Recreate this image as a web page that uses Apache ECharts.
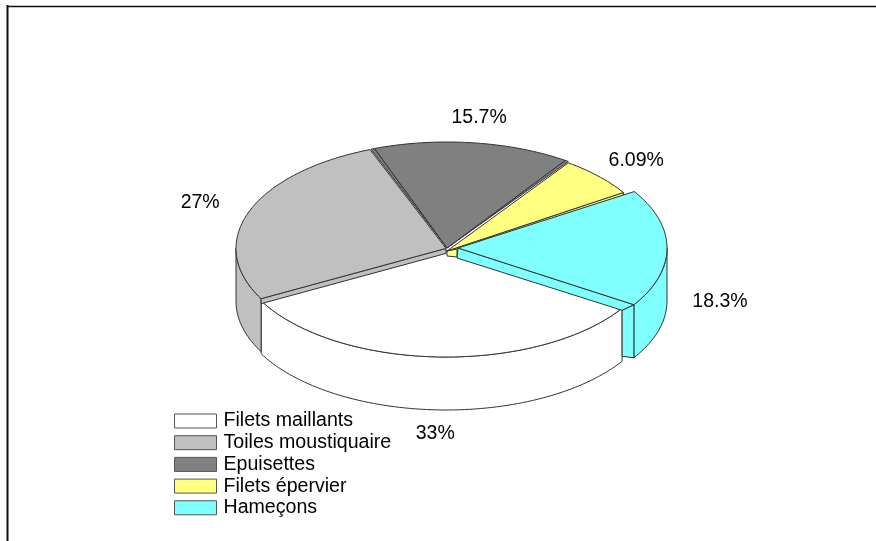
<!DOCTYPE html>
<html>
<head>
<meta charset="utf-8">
<style>html,body{margin:0;padding:0;background:#fff}#chart{width:876px;height:541px}</style>
<script src="https://cdn.jsdelivr.net/npm/echarts@6/dist/echarts.min.js"></script>
</head>
<body>
<div id="chart"></div>
<script>
// Fishing gear shares, in percent
const categories = ['Filets maillants', 'Toiles moustiquaire', 'Epuisettes', 'Filets épervier', 'Hameçons'];
const shares = [33, 27, 15.7, 6.09, 18.3];
const percentLabels = ['33%', '27%', '15.7%', '6.09%', '18.3%'];
const colors = ['#ffffff', '#c0c0c0', '#808080', '#ffff80', '#80ffff'];

// Projection of the tilted disc
const START_ANGLE = 33;   // degrees clockwise from east
const DEPTH = 53;         // wall height
const INK = '#333333';
const FONT = '19.5px "Liberation Sans", Arial, sans-serif';
const centres = [
  { x: 446, y: 250, rx: 210, ry: 107 },
  { x: 446, y: 248.4, rx: 210, ry: 106 },
  { x: 447, y: 248, rx: 210, ry: 106 },
  { x: 447, y: 251, rx: 210, ry: 108 },
  { x: 458, y: 248, rx: 209, ry: 105 }
];

const total = shares.reduce((a, b) => a + b, 0);
const rad = d => d * Math.PI / 180;

function sliceAngles(i) {
  let from = START_ANGLE;
  for (let k = 0; k < i; k++) from += shares[k] / total * 360;
  return [from, from + shares[i] / total * 360];
}
function rim(c, a, depth) {
  return [c.x + c.rx * Math.cos(rad(a)), c.y + c.ry * Math.sin(rad(a)) + (depth || 0)];
}
function arc(c, a0, a1, depth) {
  const n = Math.max(2, Math.ceil(Math.abs(a1 - a0) / 1.5));
  const pts = [];
  for (let k = 0; k <= n; k++) pts.push(rim(c, a0 + (a1 - a0) * k / n, depth));
  return pts;
}
function poly(points, fill, z2) {
  return {
    type: 'polygon',
    shape: { points },
    style: { fill, stroke: INK, lineWidth: 1, lineJoin: 'round' },
    z2: z2 || 0
  };
}
function wall(c, a0, a1, fill) {
  return poly(arc(c, a0, a1, 0).concat(arc(c, a1, a0, DEPTH)), fill);
}
function label(i, a0, a1) {
  const c = centres[i];
  const mid = (a0 + a1) / 2;
  const s = Math.sin(rad(mid));
  return {
    type: 'text',
    z2: 20,
    style: {
      text: percentLabels[i],
      x: c.x + 262 * Math.cos(rad(mid)),
      y: c.y + 131 * s + (s > -0.02 ? DEPTH : 0),
      fill: '#000',
      font: FONT,
      align: 'center',
      verticalAlign: 'middle'
    }
  };
}

function renderSlice(i) {
  const c = centres[i];
  const [a0, a1] = sliceAngles(i);
  const apex = [c.x, c.y];
  const fill = colors[i];
  const kids = [];
  if (i === 0) {
    kids.push(wall(c, a0, a1, fill));
    kids.push(poly([apex].concat(arc(c, a0, a1)), fill));
  } else if (i === 1) {
    const corner = rim(c, a0);
    kids.push(wall(c, a0, 180, fill));
    kids.push(poly([corner, apex, [apex[0], apex[1] + 5], [corner[0], corner[1] + 5]], fill));
    kids.push(poly([apex].concat(arc(c, a0, a1)), fill));
  } else if (i === 2) {
    kids.push(poly([apex, rim(c, a0), rim(c, a0 + 1)], fill));
    kids.push(poly([apex, rim(c, a1), rim(c, a1 - 1)], fill));
    kids.push(poly([apex].concat(arc(c, a0 + 1, a1 - 1)), fill));
  } else if (i === 3) {
    const end = rim(c, a1);
    const hub = centres[4];
    kids.push(poly([apex, [apex[0], apex[1] + 5], [hub.x - 1, hub.y + 9], [hub.x - 1, hub.y]], fill));
    kids.push(poly([apex, end, [end[0], end[1] + 3], [hub.x - 1, hub.y + 1]], fill));
    kids.push(poly([apex].concat(arc(c, a0, a1)), fill));
  } else {
    const inset = 0.3;
    const from = a0 + inset, to = a1 - inset;
    const tip = rim(c, to);
    const whiteCorner = rim(centres[0], START_ANGLE);
    const low = [whiteCorner[0], whiteCorner[1] + 2];
    kids.push(wall(c, 360, to, fill));
    kids.push(poly([low, tip, [tip[0], tip[1] + DEPTH], [low[0], low[1] + DEPTH - 7]], fill));
    kids.push(poly([apex, tip, low, [apex[0] - 1, apex[1] + 10]], fill));
    kids.push(poly([apex].concat(arc(c, from, to)), fill));
  }
  kids.push(label(i, a0, a1));
  return { type: 'group', children: kids };
}

const chart = echarts.init(document.getElementById('chart'), null, { renderer: 'canvas' });
chart.setOption({
  animation: false,
  backgroundColor: '#ffffff',
  legend: {
    orient: 'vertical',
    left: 174,
    top: 411,
    icon: 'rect',
    itemWidth: 42,
    itemHeight: 14,
    itemGap: 1.7,
    padding: 0,
    data: categories,
    itemStyle: { borderColor: '#555', borderWidth: 1 },
    textStyle: { color: '#000', fontFamily: '"Liberation Sans", Arial, sans-serif', fontSize: 19.6, padding: [0, 0, 0, 2] },
    selectedMode: false
  },
  graphic: [
    { type: 'line', shape: { x1: 7.5, y1: 5, x2: 7.5, y2: 541 }, style: { stroke: '#111', lineWidth: 2 } },
    { type: 'line', shape: { x1: 7, y1: 6.5, x2: 876, y2: 6.5 }, style: { stroke: '#111', lineWidth: 1.5 } }
  ],
  series: categories.map((name, i) => ({
    type: 'custom',
    name,
    coordinateSystem: 'none',
    silent: true,
    z: 2 + i,
    itemStyle: { color: colors[i] },
    data: [shares[i]],
    renderItem: () => renderSlice(i)
  }))
});
</script>
</body>
</html>
